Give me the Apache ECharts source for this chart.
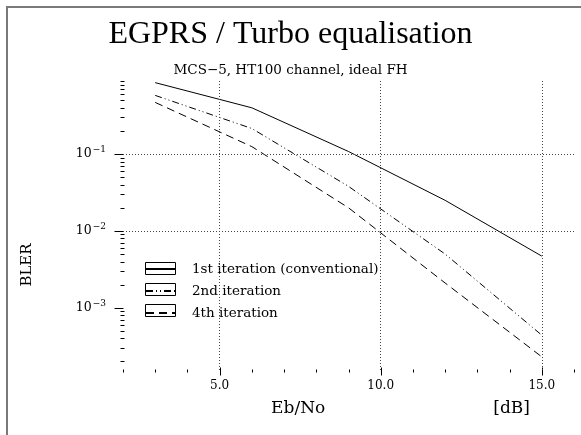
<!DOCTYPE html>
<html>
<head>
<meta charset="utf-8">
<script src="https://cdn.jsdelivr.net/npm/echarts@6/dist/echarts.min.js"></script>
<style>html,body{margin:0;padding:0;background:#fff}#c{width:581px;height:435px}</style>
</head>
<body>
<div id="c"></div>
<script>
// ---- data ----
const ebno = [3, 6, 9, 12, 15];
const iter1 = [0.85, 0.40, 0.108, 0.025, 0.0047];
const iter2 = [0.58, 0.215, 0.038, 0.005, 0.00044];
const iter4 = [0.47, 0.125, 0.020, 0.0021, 0.00023];
const seriesNames = ['1st iteration (conventional)', '2nd iteration', '4th iteration'];
const xTickValues = [2,3,4,5,6,7,8,9,10,11,12,13,14,15,16];
const xMajorTicks = [5, 10, 15];
const yDecades = [0.0001, 0.001, 0.01, 0.1];
const yMinorMult = [2,3,4,5,6,7,8,9];
const yMajorTicks = [0.001, 0.01, 0.1];
const X_MIN = 2, X_MAX = 16, Y_MIN = 1.55e-4, Y_MAX = 0.92;

const serif = 'DejaVu Serif';
const pair = (xs, ys) => xs.map((x, i) => [x, ys[i]]);

const yTicks = [];
yDecades.forEach(d => {
  if (d >= Y_MIN && d <= Y_MAX) yTicks.push([X_MIN, d, 1]);
  yMinorMult.forEach(m => { const v = d * m; if (v >= Y_MIN && v <= Y_MAX) yTicks.push([X_MIN, v, yMajorTicks.includes(v) ? 1 : 0]); });
});
const xTicks = xTickValues.map(v => [v, Y_MIN, xMajorTicks.includes(v) ? 1 : 0]);

function tickRender(dir) {
  return function (params, api) {
    const p = api.coord([api.value(0), api.value(1)]);
    const major = api.value(2) === 1;
    const x = Math.round(p[0]) + 0.5, y = Math.round(p[1]) + 0.5;
    let shape;
    if (dir === 'y') shape = major ? {x1: x - 9, y1: y, x2: x, y2: y} : {x1: x - 3, y1: y, x2: x + 1, y2: y};
    else shape = major ? {x1: x, y1: y - 3, x2: x, y2: y + 5} : {x1: x, y1: y - 1, x2: x, y2: y + 2};
    return {type: 'line', shape, style: {stroke: '#000', lineWidth: 1}};
  };
}

const gridLine = {type: [1, 2], color: '#444', width: 1};

const chart = echarts.init(document.getElementById('c'), null, {renderer: 'canvas'});
chart.setOption({
  animation: false,
  backgroundColor: '#fff',
  graphic: [{type: 'rect', shape: {x: 7, y: 7, width: 640, height: 500}, style: {fill: 'none', stroke: '#7a7a7a', lineWidth: 2}, silent: true}],
  title: [
    {text: 'EGPRS / Turbo equalisation', left: 'center', top: 19, padding: 0,
     textStyle: {fontFamily: 'Liberation Serif', fontSize: 32, fontWeight: 'normal', color: '#000'}},
    {text: 'MCS\u22125, HT100 channel, ideal FH', left: 'center', top: 63, padding: 0,
     textStyle: {fontFamily: serif, fontSize: 13.5, fontWeight: 'normal', color: '#000'}}
  ],
  grid: {left: 123, right: 7, top: 80, bottom: 65, containLabel: false},
  legend: [
    {data: seriesNames, orient: 'vertical', left: 145, top: 262, padding: 0, itemGap: 8,
     itemWidth: 30, itemHeight: 12, icon: 'rect', selectedMode: false,
     itemStyle: {color: 'transparent', borderColor: '#000', borderWidth: 1},
     formatter: () => '', textStyle: {fontFamily: serif, fontSize: 13.5, lineHeight: 12}},
    {data: seriesNames, orient: 'vertical', left: 145, top: 262, padding: 0, itemGap: 8,
     itemWidth: 30, itemHeight: 12, selectedMode: false,
     itemStyle: {opacity: 0},
     textStyle: {fontFamily: serif, fontSize: 13.5, lineHeight: 12, color: '#000', padding: [0, 0, 0, 11]}}
  ],
  xAxis: {
    type: 'value', min: X_MIN, max: X_MAX, interval: 1,
    axisLine: {show: false}, axisTick: {show: false}, splitLine: {show: false},
    axisLabel: {margin: 10, fontFamily: serif, fontSize: 12, color: '#000',
      formatter: v => xMajorTicks.includes(v) ? v.toFixed(1) : ''},
    name: '{a|Eb/No}{g|}{b|[dB]}', nameLocation: 'middle', nameGap: 30,
    nameTextStyle: {padding: [0, 0, 0, 104], rich: {
      a: {fontFamily: serif, fontSize: 17, color: '#000'},
      g: {width: 168},
      b: {fontFamily: serif, fontSize: 17, color: '#000'}}}
  },
  yAxis: {
    type: 'log', logBase: 10, min: Y_MIN, max: Y_MAX,
    axisLine: {show: false}, axisTick: {show: false}, splitLine: {show: false}, minorTick: {show: false},
    axisLabel: {margin: 17, color: '#000',
      formatter: v => {
        const e = Math.log10(v);
        if (Math.abs(e - Math.round(e)) > 1e-6) return '';
        return '{b|10}{s|\u2212' + Math.abs(Math.round(e)) + '}';
      },
      rich: {b: {fontFamily: serif, fontSize: 12.5, color: '#000'},
             s: {fontFamily: serif, fontSize: 9, color: '#000', padding: [0, 0, 8, 1]}}},
    name: 'BLER', nameLocation: 'middle', nameGap: 88, nameRotate: 90,
    nameTextStyle: {fontFamily: serif, fontSize: 15, color: '#000', padding: [0, 80, 0, 0]}
  },
  series: [
    {type: 'line', name: seriesNames[0], data: pair(ebno, iter1), symbol: 'none',
     lineStyle: {color: '#000', width: 1, type: 'solid'}, itemStyle: {color: '#000'},
     markLine: {silent: true, symbol: 'none', label: {show: false}, lineStyle: gridLine,
       data: [{xAxis: 5}, {xAxis: 10}, {xAxis: 15}, {yAxis: 0.1}, {yAxis: 0.01}, {yAxis: 0.001}]}},
    {type: 'line', name: seriesNames[1], data: pair(ebno, iter2), symbol: 'none',
     lineStyle: {color: '#000', width: 1, type: [7, 3, 1, 3, 1, 3]}, itemStyle: {color: '#000'}},
    {type: 'line', name: seriesNames[2], data: pair(ebno, iter4), symbol: 'none',
     lineStyle: {color: '#000', width: 1, type: [8, 5]}, itemStyle: {color: '#000'}},
    {type: 'custom', name: 'yticks', data: yTicks, renderItem: tickRender('y'), clip: false, silent: true},
    {type: 'custom', name: 'xticks', data: xTicks, renderItem: tickRender('x'), clip: false, silent: true}
  ]
});
</script>
</body>
</html>
